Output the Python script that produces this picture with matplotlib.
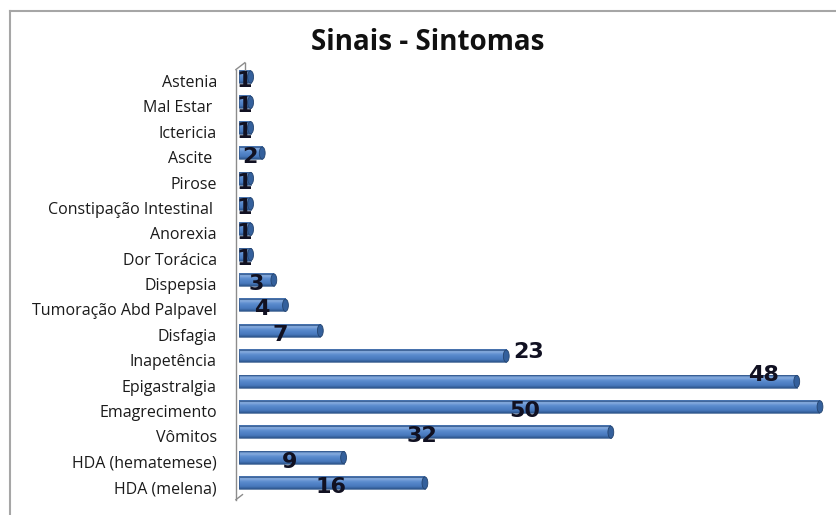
import numpy as np
import matplotlib.pyplot as plt
from matplotlib.colors import LinearSegmentedColormap
from matplotlib.patches import Ellipse, Rectangle
from matplotlib.lines import Line2D

sintomas = ["Astenia", "Mal Estar ", "Ictericia", "Ascite ", "Pirose",
            "Constipação Intestinal ", "Anorexia", "Dor Torácica", "Dispepsia",
            "Tumoração Abd Palpavel", "Disfagia", "Inapetência", "Epigastralgia",
            "Emagrecimento", "Vômitos", "HDA (hematemese)", "HDA (melena)"]
casos = [1, 1, 1, 2, 1, 1, 1, 1, 3, 4, 7, 23, 48, 50, 32, 9, 16]

# where each number sits (x centre, small vertical nudge), placed by hand
rotulo_x = [0.43, 0.43, 0.43, 0.95, 0.43, 0.43, 0.43, 0.43, 1.46, 1.98,
            3.53, 24.96, 45.1, 24.6, 15.75, 4.39, 7.92]
rotulo_dy = [0, 0, 0, 0, 0, 0, 0, 0, 0, 0, 0, -0.31, -0.4, 0, 0, 0, 0]

fig = plt.figure(figsize=(8.37, 5.15), dpi=100)
W, H = 837, 515

# axes in pixel terms: x=0 at 239px, 11.62 px per case; rows 25.375 px apart
passo = 25.375
y0 = 81
x_px0, x_px1 = 239, 239 + 11.62 * 50
topo = y0 - 0.5 * passo
base = y0 + 16.5 * passo
ax = fig.add_axes([x_px0 / W, 1 - base / H, (x_px1 - x_px0) / W, (base - topo) / H])

cilindro = LinearSegmentedColormap.from_list(
    "cil", ["#3a66a3", "#8aaee0", "#5f8fd0", "#5182c6", "#4879bd", "#2d558c"])
grad = np.linspace(0, 1, 64).reshape(-1, 1)

alt = 0.48
desloc = -0.16  # bars sit slightly above the category centre (depth effect)
for i, v in enumerate(casos):
    yc = i + desloc
    ax.imshow(grad, cmap=cilindro, aspect="auto", origin="upper",
              extent=(0, v, yc + alt / 2, yc - alt / 2), zorder=2,
              interpolation="bilinear")
    ax.add_patch(Rectangle((0, yc - alt / 2), v, alt, fill=False,
                           edgecolor="#33578a", lw=0.5, zorder=3))
    ax.add_patch(Ellipse((v, yc), 0.5, alt, facecolor="#34609c",
                         edgecolor="#24446f", lw=0.6, zorder=3, clip_on=False))

for i, v in enumerate(casos):
    ax.text(rotulo_x[i], i + rotulo_dy[i], str(v), ha="center", va="center",
            fontsize=16, fontweight="bold", color="#111122",
            family="DejaVu Sans", zorder=5, clip_on=False)

# the thin side wall of the 3-D chart
parede = "#8c8c8c"
ax.add_line(Line2D([-0.27, -0.27], [-0.45, 16.5], color=parede, lw=1.0, clip_on=False))
ax.add_line(Line2D([-0.27, 0.5], [-0.45, -0.72], color=parede, lw=1.0, clip_on=False))
ax.add_line(Line2D([0.5, 0.5], [-0.72, -0.45], color=parede, lw=1.0, clip_on=False))
ax.add_line(Line2D([-0.27, 0.3], [16.5, 16.3], color=parede, lw=1.0, clip_on=False))

ax.set_xlim(0, 50)
ax.set_ylim(16.5, -0.5)
ax.set_yticks(range(len(sintomas)))
ax.set_yticklabels(sintomas, fontsize=11.5, family="Open Sans", color="#1a1a1a")
ax.tick_params(axis="y", length=0, pad=16)
ax.set_xticks([])
for s in ax.spines.values():
    s.set_visible(False)

fig.text(428 / W, 1 - 42.5 / H, "Sinais - Sintomas", ha="center", va="center",
         fontsize=20, fontweight="bold", family="Open Sans", color="#111111")

# outer chart frame
fig.add_artist(Line2D([9.5 / W, 9.5 / W], [0, 1 - 10.5 / H], color="#a6a6a6", lw=1.5))
fig.add_artist(Line2D([9.5 / W, 1], [1 - 10.5 / H, 1 - 10.5 / H], color="#a6a6a6", lw=1.5))

fig.savefig("out.png", dpi=100)
